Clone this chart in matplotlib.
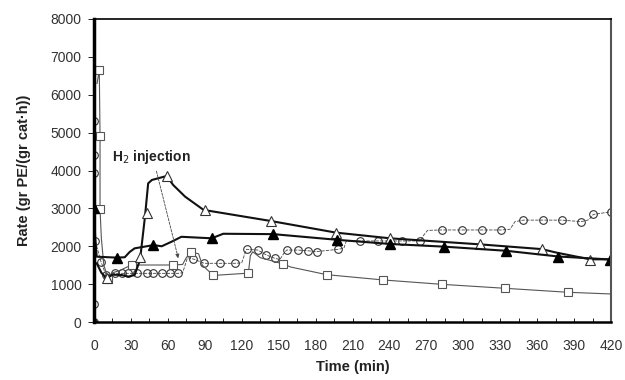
import numpy as np
import matplotlib.pyplot as plt
from matplotlib.ticker import MultipleLocator

plt.rcParams['font.family'] = ['Liberation Sans', 'DejaVu Sans']

# Open circles - trace and marker positions (min, gr PE/(gr cat h))
circ_line_t = [0, 0, 0, 0, 0, 1, 5.7, 9.7, 17, 22.5, 28, 34.7, 42.8, 48.2, 55, 61.7, 68.5,
               72, 76, 80.7, 89.6, 102, 114.5, 120, 123, 124, 133, 140, 147, 151, 154,
               156.5, 165.5, 174, 181, 198.5, 203, 205, 216, 231, 250, 265, 268, 271,
               282.5, 298.7, 315, 331, 338, 342, 348.8, 365, 380, 396, 402, 405.6, 419.7]
circ_line_r = [0, 470, 3930, 4400, 5300, 2140, 1590, 1240, 1285, 1285, 1285, 1285, 1285, 1285,
               1285, 1285, 1285, 1300, 1700, 1663, 1550, 1550, 1550, 1560, 1850, 1920, 1900,
               1770, 1680, 1650, 1800, 1900, 1900, 1880, 1860, 1920, 1950, 2140, 2140, 2140,
               2140, 2140, 2300, 2420, 2430, 2430, 2430, 2430, 2450, 2650, 2690, 2690, 2690,
               2650, 2700, 2840, 2910]
circ_mark_t = [0, 0, 0, 0, 0, 1, 5.7, 9.7, 17, 22.5, 28, 34.7, 42.8, 48.2, 55, 61.7, 68.5,
               80.7, 89.6, 102, 114.5, 124, 133, 140, 147, 156.5, 165.5, 174, 181, 198.5,
               216, 231, 250, 265, 282.5, 298.7, 315, 331, 348.8, 365, 380, 396, 405.6, 419.7]
circ_mark_r = [0, 470, 3930, 4400, 5300, 2140, 1590, 1240, 1285, 1285, 1285, 1285, 1285, 1285,
               1285, 1285, 1285, 1663, 1550, 1550, 1550, 1920, 1900, 1770, 1680, 1900, 1900,
               1880, 1860, 1920, 2140, 2140, 2140, 2140, 2430, 2430, 2430, 2430, 2690, 2690,
               2690, 2650, 2840, 2910]

# Open squares
sq_line_t = [2.5, 4.3, 4.9, 4.9, 6, 8, 11.6, 15, 20, 30.6, 64, 72, 75, 79, 85, 88, 97, 125.4,
             127, 129, 135, 153.8, 160, 189, 235, 282.5, 334, 385, 420]
sq_line_r = [6300, 6650, 4910, 2975, 2200, 1500, 1130, 1300, 1350, 1505, 1505, 1520, 1700,
             1850, 1800, 1500, 1230, 1290, 1750, 1855, 1700, 1530, 1450, 1250, 1110, 995,
             890, 785, 740]
sq_mark_t = [4.3, 4.9, 4.9, 11.6, 30.6, 64, 79, 97, 125.4, 153.8, 189, 235, 282.5, 334, 385]
sq_mark_r = [6650, 4910, 2975, 1130, 1505, 1505, 1850, 1230, 1290, 1530, 1250, 1110, 995,
             890, 785]

# Open triangles
otri_line_t = [2.2, 6, 10.3, 15, 22.5, 28, 33, 37.4, 41.4, 44, 47, 59, 64.4, 74, 89, 144,
               196.6, 240.5, 313.6, 363.7, 376, 403, 420]
otri_line_r = [1550, 1300, 1150, 1250, 1240, 1200, 1240, 1640, 2780, 3660, 3750, 3855, 3615,
               3310, 2960, 2665, 2360, 2210, 2050, 1925, 1830, 1655, 1655]
otri_mark_t = [10.3, 37.4, 42.8, 59, 90, 144, 196.6, 240.5, 313.6, 363.7, 403]
otri_mark_r = [1150, 1725, 2870, 3850, 2950, 2665, 2360, 2210, 2050, 1925, 1650]

# Filled triangles
ftri_line_t = [0, 0, 1, 2.2, 18.4, 25, 29, 33, 48.2, 55, 63, 71, 95.6, 105, 145.7, 197.6,
               240.5, 284.3, 335, 377, 420]
ftri_line_r = [0, 3050, 2200, 1725, 1700, 1710, 1850, 1945, 2030, 2000, 2120, 2250, 2210,
               2330, 2320, 2170, 2060, 1990, 1880, 1730, 1650]
ftri_mark_t = [0, 0, 18.4, 48.2, 95.6, 145.7, 197.6, 240.5, 284.3, 335, 377, 419]
ftri_mark_r = [0, 3000, 1690, 2030, 2210, 2315, 2165, 2050, 1990, 1875, 1725, 1640]

fig = plt.figure(figsize=(6.25, 3.8), dpi=100)
ax = fig.add_axes([0.1504, 0.1526, 0.8272, 0.7974])

ms = 5.5
ax.plot(circ_line_t, circ_line_r, color='#444444', lw=0.6, ls=(0, (4, 1.5)))
ax.plot(circ_mark_t, circ_mark_r, ls='none', marker='o', ms=ms, mfc='none',
        mec='#333333', mew=0.8)
ax.plot(sq_line_t, sq_line_r, color='#555555', lw=0.8)
ax.plot(sq_mark_t, sq_mark_r, ls='none', marker='s', ms=ms, mfc='white',
        mec='#555555', mew=0.8)
ax.plot(otri_line_t, otri_line_r, color='#111111', lw=1.5)
ax.plot(otri_mark_t, otri_mark_r, ls='none', marker='^', ms=6.5, mfc='white',
        mec='#333333', mew=0.8)
ax.plot(ftri_line_t, ftri_line_r, color='#111111', lw=1.5)
ax.plot(ftri_mark_t, ftri_mark_r, ls='none', marker='^', ms=6.5, color='black')

ax.annotate('H$_2$ injection', xy=(68.5, 1680), xytext=(14.4, 4365),
            fontsize=10, fontweight='bold', va='center', ha='left', color='#222222',
            arrowprops=dict(arrowstyle='-|>', color='#444444', lw=0.6,
                            ls=(0, (3, 1.5)), mutation_scale=6,
                            shrinkA=2, shrinkB=0, relpos=(0.55, 0.0)))

ax.set_xlim(0, 420)
ax.set_ylim(0, 8000)
ax.xaxis.set_major_locator(MultipleLocator(30))
ax.xaxis.set_minor_locator(MultipleLocator(15))
ax.yaxis.set_major_locator(MultipleLocator(1000))
ax.tick_params(axis='x', which='both', direction='in', length=3, width=0.6,
               labelsize=10, labelcolor='#333333', pad=12)
ax.tick_params(axis='y', direction='out', length=4, width=0.6, labelsize=10,
               labelcolor='#333333', pad=5)

ax.spines['left'].set_linewidth(2.5)
ax.spines['bottom'].set_linewidth(1.8)
ax.spines['top'].set_linewidth(1.2)
ax.spines['right'].set_linewidth(1.5)
ax.spines['right'].set_color('#555555')

ax.set_xlabel('Time (min)', fontsize=10.5, fontweight='bold', color='#222222', labelpad=5)
ax.set_ylabel('Rate (gr PE/(gr cat·h))', fontsize=10.5, fontweight='bold',
              color='#222222', labelpad=14)

plt.savefig('out.png', dpi=100)
